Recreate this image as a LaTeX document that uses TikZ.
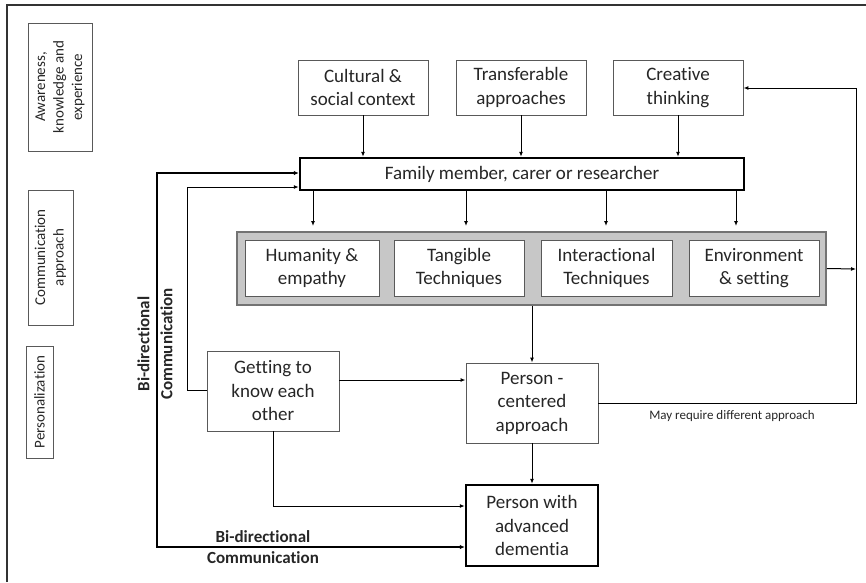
\documentclass[tikz,border=0pt]{standalone}
\usepackage{fontspec}
\setmainfont{Carlito}[Ligatures=CommonOff]
\usetikzlibrary{arrows.meta}
\begin{document}
\begin{tikzpicture}[x=1pt,y=-1pt,
  box/.style={draw=black!65, line width=0.9pt, fill=white, align=center, inner sep=0pt, text=black!85, font=\fontsize{19}{23.5}\selectfont},
  thickbox/.style={box, draw=black, line width=2.4pt},
  side/.style={draw=black!65, line width=0.9pt, align=center, inner sep=0pt, rotate=90, text=black!85, font=\fontsize{15}{18.5}\selectfont},
  arr/.style={-{Latex[length=5pt,width=4pt]}, line width=1pt},
  biarr/.style={{Latex[length=5pt,width=4.5pt]}-{Latex[length=5pt,width=4.5pt]}, line width=2.2pt},
  blab/.style={font=\bfseries\fontsize{17}{21}\selectfont, align=center, inner sep=0pt, text=black!85}
]
\useasboundingbox (0,0) rectangle (866,582);
\draw[line width=1.3pt, black!80] (7,582) -- (7,5) -- (866,5);

% side labels
\node[side, minimum width=128pt, minimum height=64pt] (aware) at (60,87) {Awareness,\\knowledge and\\experience};
\node[side, minimum width=135pt, minimum height=45pt] (comm) at (50.5,257.5) {Communication\\approach};
\node[side, minimum width=112pt, minimum height=27pt] (pers) at (39.5,402) {Personalization};

% top boxes
\node[box, minimum width=130pt, minimum height=55pt] (cult) at (363,87.5) {Cultural \&\\social context};
\node[box, minimum width=130pt, minimum height=55pt] (trans) at (521,87.5) {Transferable\\approaches};
\node[box, minimum width=130pt, minimum height=55pt] (creat) at (678,87.5) {Creative\\thinking};

\node[thickbox, minimum width=444pt, minimum height=32pt] (fam) at (522,174) {Family member, carer or researcher};

% gray group
\node[draw=black!55, fill=black!22, line width=1.6pt, minimum width=589pt, minimum height=73pt, inner sep=0pt] (grp) at (531.5,268.5) {};
\node[box, minimum width=134pt, minimum height=56pt] (hum) at (312,268) {Humanity \&\\empathy};
\node[box, minimum width=130pt, minimum height=56pt] (tang) at (459,268) {Tangible\\Techniques};
\node[box, minimum width=131pt, minimum height=56pt] (inter) at (606.5,268) {Interactional\\Techniques};
\node[box, minimum width=130pt, minimum height=56pt] (env) at (754,268) {Environment\\\& setting};

% lower boxes
\node[box, minimum width=132pt, minimum height=80pt] (getk) at (273,391) {Getting to\\know each\\other};
\node[box, minimum width=132pt, minimum height=80pt] (pc) at (532,403) {Person -\\centered\\approach};
\node[thickbox, minimum width=132pt, minimum height=81pt] (dem) at (532,525.5) {Person with\\advanced\\dementia};

% labels
\node[blab, rotate=90, font=\bfseries\fontsize{17}{23}\selectfont] (bivert) at (155,344) {Bi-directional\\Communication};
\node[blab] (bihor) at (263,547.5) {Bi-directional\\Communication};
\node[inner sep=0pt, text=black!85, font=\fontsize{13}{15}\selectfont] (may) at (732,416) {May require different approach};

\coordinate (fbr) at (856,269);

% arrows top -> family
\draw[arr] (cult.south) -- (cult.south |- fam.north);
\draw[arr] (trans.south) -- (trans.south |- fam.north);
\draw[arr] (creat.south) -- (creat.south |- fam.north);

% family -> group
\draw[arr] (313,0 |- fam.south) -- (313,226);
\draw[arr] (466,0 |- fam.south) -- (466,226);
\draw[arr] (606,0 |- fam.south) -- (606,226);
\draw[arr] (736,0 |- fam.south) -- (736,226);

% group -> pc -> dem
\draw[arr] (532,0 |- grp.south) -- (pc.north);
\draw[arr] (pc.south) -- (dem.north);

% getting to know
\draw[arr] (getk.east |- 0,380) -- (pc.west |- 0,380);
\draw[arr] (getk.south) -- (273,506) -- (dem.west |- 0,506);
\draw[arr] (getk.west |- 0,390) -- (187,390) -- (187,187) -- (fam.west |- 0,187);

% bidirectional thick
\draw[biarr] (dem.west |- 0,547) -- (157,547) -- (157,173) -- (fam.west |- 0,173);

% feedback
\draw[arr] (grp.east) -- (fbr);
\draw[arr] (pc.east) -- (856,403) -- (856,88) -- (creat.east |- 0,88);
\end{tikzpicture}
\end{document}
